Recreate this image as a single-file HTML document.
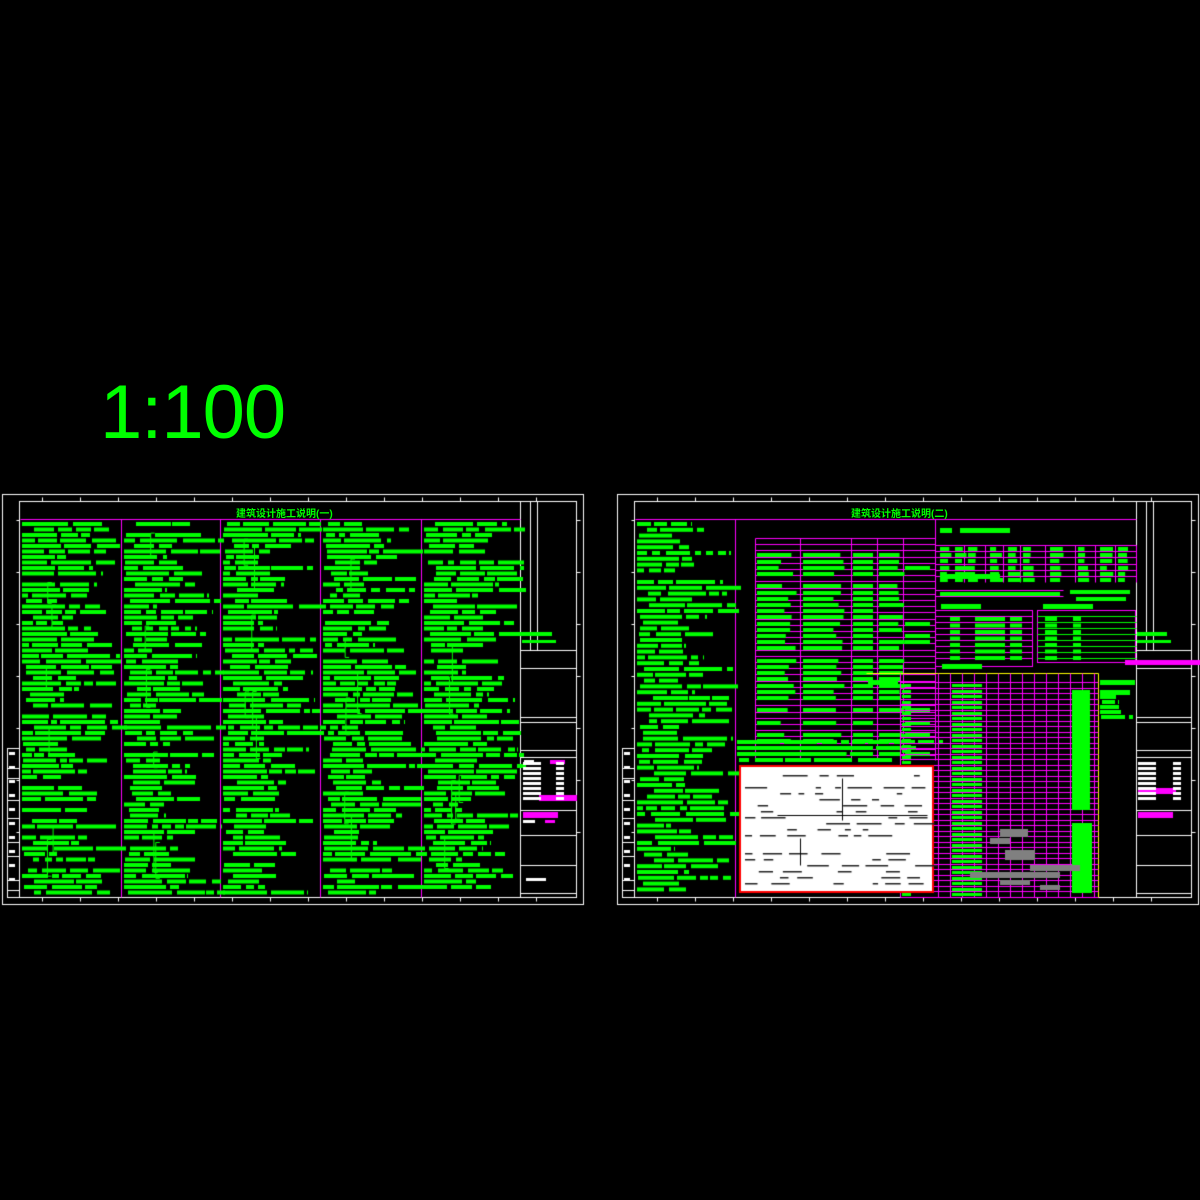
<!DOCTYPE html>
<html><head><meta charset="utf-8"><style>
html,body{margin:0;padding:0;background:#000;}
body{width:1200px;height:1200px;position:relative;overflow:hidden;font-family:"Liberation Sans","Noto Sans CJK SC",sans-serif;}
#c{position:absolute;left:0;top:0;}
.t{position:absolute;color:#00ff00;white-space:nowrap;}
</style></head><body>
<canvas id="c" width="1200" height="1200"></canvas>
<div class="t" style="left:100px;top:370px;font-size:76px;line-height:86px;letter-spacing:-1px;">1:100</div>
<div class="t" style="left:236px;top:505px;font-size:10px;font-weight:bold;">建筑设计施工说明(一)</div>
<div class="t" style="left:851px;top:505px;font-size:10px;font-weight:bold;">建筑设计施工说明(二)</div>
<script>
var c=document.getElementById('c').getContext('2d');
var s=12345;function r(){s=(s*1103515245+12345)%2147483648;return s/2147483648;}
var G='#00ff00',M='#ff00ff',W='#ffffff';
function rect(x,y,w,h,col){c.strokeStyle=col;c.lineWidth=1;c.strokeRect(x+.5,y+.5,w,h);}
function ln(x1,y1,x2,y2,col,lw){c.strokeStyle=col;c.lineWidth=lw||1;c.beginPath();c.moveTo(x1+.5,y1+.5);c.lineTo(x2+.5,y2+.5);c.stroke();}
function fr(x,y,w,h,col){c.fillStyle=col;c.fillRect(x,y,w,h);}
function bars(x0,x1,y0,y1,pitch,dens,indent){
 c.fillStyle=G;
 for(var y=y0;y<y1;y+=pitch){
  if(r()>dens)continue;
  var x=x0+(r()<0.5?0:(indent||8)*r());
  var end=x0+(x1-x0)*(0.35+0.75*r());if(end>x1+8)end=x1+8;
  while(x<end){var w=6+r()*40;if(x+w>end)w=end-x;c.fillRect(Math.round(x),y,Math.round(w),4);x+=w+2+r()*4;}
 }
}
function sheet(x0,tb){
 rect(x0,494,581,410,W);
 rect(x0+17,501,557,396,W);
 for(var i=0;i<14;i++){var xx=x0+40+i*38;ln(xx,497,xx,501,W);ln(xx,897,xx,901,W);}
 for(var j=0;j<7;j++){var yy=520+j*52;ln(x0+14,yy,x0+17,yy,W);ln(x0+574,yy,x0+578,yy,W);}
 var tx=tb;ln(tx,501,tx,897,W);
 ln(tx+10,501,tx+10,650,W);ln(tx+17,501,tx+17,650,W);
 [650,668,717,722,750,757,810,835,865,893].forEach(function(y){ln(tx,y,x0+574,y,W);});
 rect(x0+5,748,12,149,W);
 [768,778,800,818,842,856,880,890].forEach(function(y){ln(x0+5,y,x0+17,y,W);});
 for(var k=0;k<10;k++)fr(x0+7,752+k*14,6,3,W);
}
sheet(2,520);sheet(617,1136);
ln(20,519,520,519,M);
[121,220,320,421].forEach(function(x){ln(x,519,x,897,M);});
var cols=[[22,119],[124,218],[223,318],[323,419],[424,518]];
cols.forEach(function(cc){bars(cc[0],cc[1],522,893,5.5,0.95,14);
 for(var b=0;b<6;b++){var by=530+r()*330,bh=15+r()*30,bx=cc[0]+20+r()*15;ln(bx,by,bx,by+bh,G);ln(bx,by,bx+4,by,G);ln(bx,by+bh,bx+4,by+bh,G);}});
fr(522,632,30,4,G);fr(522,640,34,3,G);fr(524,760,10,3,W);fr(550,760,15,4,M);fr(539,795,38,6,M);
fr(523,812,35,6,M);fr(523,820,12,3,W);fr(545,820,10,3,M);fr(526,878,20,3,W);
for(var q=0;q<8;q++){fr(523,762+q*5,18,3,W);fr(556,762+q*5,8,3,W);}
ln(635,519,1136,519,M);ln(735,519,735,897,M);ln(935,519,935,760,M);
bars(637,733,522,893,5.8,0.95,18);
for(var y=538;y<760;y+=6.2){ln(755,Math.round(y),935,Math.round(y),M);}
[755,800,851,877,903].forEach(function(x){ln(x,538,x,760,M);});
for(var y=540;y<755;y+=6.2){if(r()<0.9){fr(757,Math.round(y)+1,20+r()*20,4,G);fr(803,Math.round(y)+1,30+r()*15,4,G);fr(853,Math.round(y)+1,20,4,G);if(r()<0.8)fr(879,Math.round(y)+1,18+r()*8,4,G);if(r()<0.4)fr(905,Math.round(y)+1,25,4,G);}}
bars(737,935,740,764,6,0.9,4);
fr(940,528,12,5,G);fr(960,528,50,5,G);
for(var y=545;y<582;y+=6.2){ln(935,Math.round(y),1136,Math.round(y),M);}
[964,985,1003,1020,1045,1075,1095,1115,1136].forEach(function(x){ln(x,545,x,582,M);});
for(var y=546;y<580;y+=6.2)for(var x of [940,955,968,990,1008,1023,1050,1078,1100,1118])fr(x,Math.round(y)+1,6+r()*8,4,G);
fr(940,574,60,5,G);
for(var y=590;y<602;y+=6)ln(935,y,1063,y,M);
fr(940,592,120,4,G);fr(1070,590,60,4,G);fr(1076,597,50,4,G);
fr(941,604,40,5,G);fr(1043,604,50,5,G);
rect(935,610,97,56,M);rect(1037,610,98,52,M);
for(var y=616;y<662;y+=6){ln(935,y,1032,y,M);ln(1037,y,1136,y,G);}
for(var y=617;y<660;y+=6.5){fr(950,y,10,4,G);fr(975,y,30,4,G);fr(1010,y,12,4,G);fr(1045,y,12,4,G);fr(1073,y,8,4,G);}
fr(1125,660,75,5,M);
fr(942,664,40,5,G);
ln(866,673,1098,673,'#ffff00');ln(1098,673,1098,897,'#ffff00');
for(var y=682;y<897;y+=5.5)ln(900,Math.round(y),1098,Math.round(y),M);
for(var x=938;x<1098;x+=12)ln(x,673,x,897,M);
ln(900,673,900,897,M);
for(var y=683;y<895;y+=5.5){fr(902,Math.round(y)+1,9,3,G);fr(952,Math.round(y)+1,30,3,G);}
fr(1072,690,18,120,G);fr(1072,823,20,70,G);
[[1000,829,28,8],[990,838,20,6],[1005,850,30,10],[1030,865,50,6],[970,872,90,6],[1000,880,30,5],[1040,885,20,5]].forEach(function(b){fr(b[0],b[1],b[2],b[3],'#808080');});
fr(868,680,30,5,G);fr(1100,680,35,5,G);fr(1100,690,30,5,G);bars(1100,1135,695,720,5,0.9,3);
fr(739,765,195,128,W);c.strokeStyle='#ff0000';c.lineWidth=2;c.strokeRect(740,766,193,126);
c.fillStyle='#222';
for(var y=775;y<888;y+=6){if(r()<0.8){var x=745;while(x<925){var w=5+r()*20;if(r()<0.6)c.fillRect(x,y,w,1.5);x+=w+5+r()*10;}}}
ln(842,778,842,820,'#000');ln(777,815,927,815,'#000');ln(800,838,800,865,'#000');
fr(1137,632,30,4,G);fr(1137,640,34,3,G);fr(1138,788,38,6,M);fr(1138,812,35,6,M);
for(var q=0;q<8;q++){fr(1138,762+q*5,18,3,W);fr(1173,762+q*5,8,3,W);}
</script>
</body></html>
